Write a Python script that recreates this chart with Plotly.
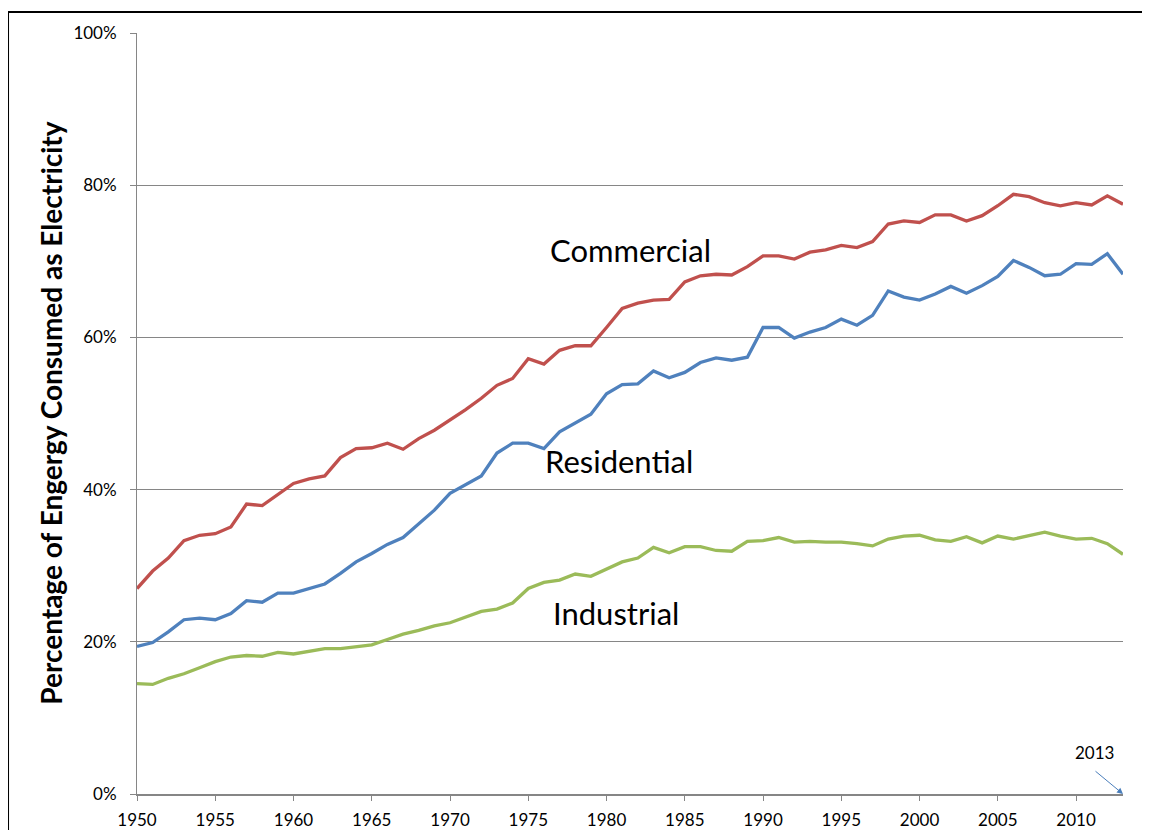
import plotly.graph_objects as go

# Share of sector energy consumed as electricity, 1950-2013 (%)
years = list(range(1950, 2014))

commercial = [27.0, 29.3, 31.0, 33.3, 34.0, 34.2, 35.1, 38.1, 37.9, 39.4,
              40.8, 41.4, 41.8, 44.2, 45.4, 45.5, 46.1, 45.3, 46.7, 47.8,
              49.1, 50.5, 52.0, 53.7, 54.6, 57.2, 56.5, 58.3, 58.9, 58.9,
              61.3, 63.8, 64.5, 64.9, 65.0, 67.3, 68.1, 68.3, 68.2, 69.3,
              70.7, 70.7, 70.3, 71.2, 71.5, 72.1, 71.8, 72.6, 74.9, 75.3,
              75.1, 76.1, 76.1, 75.3, 76.0, 77.3, 78.8, 78.5, 77.7, 77.3,
              77.7, 77.4, 78.6, 77.5]

residential = [19.4, 19.9, 21.3, 22.9, 23.1, 22.9, 23.7, 25.4, 25.2, 26.4,
               26.4, 27.0, 27.6, 29.0, 30.5, 31.6, 32.8, 33.7, 35.5, 37.3,
               39.5, 40.7, 41.8, 44.8, 46.1, 46.1, 45.4, 47.6, 48.8, 49.9,
               52.6, 53.8, 53.9, 55.6, 54.7, 55.4, 56.7, 57.3, 57.0, 57.4,
               61.3, 61.3, 59.9, 60.7, 61.3, 62.4, 61.6, 62.9, 66.1, 65.3,
               64.9, 65.7, 66.7, 65.8, 66.8, 68.0, 70.1, 69.2, 68.1, 68.3,
               69.7, 69.6, 71.0, 68.3]

industrial = [14.5, 14.4, 15.2, 15.8, 16.6, 17.4, 18.0, 18.2, 18.1, 18.6,
              18.4, 18.7, 19.1, 19.1, 19.3, 19.6, 20.3, 21.0, 21.5, 22.1,
              22.5, 23.3, 24.0, 24.3, 25.1, 27.0, 27.8, 28.1, 28.9, 28.6,
              29.5, 30.5, 31.0, 32.4, 31.7, 32.5, 32.5, 32.0, 31.9, 33.2,
              33.3, 33.7, 33.1, 33.2, 33.1, 33.1, 32.9, 32.6, 33.5, 33.9,
              34.0, 33.4, 33.2, 33.8, 33.0, 33.9, 33.5, 34.0, 34.4, 33.9,
              33.5, 33.6, 32.9, 31.5]

y_ticks = [0, 20, 40, 60, 80, 100]
y_ticktext = [f"{v}%" for v in y_ticks]
x_ticks = list(range(1950, 2015, 5))

series = [
    ("Commercial", commercial, "#C0504D"),
    ("Residential", residential, "#4F81BD"),
    ("Industrial", industrial, "#9BBB59"),
]

# label positions for the in-chart series names (year, percent)
labels = [("Commercial", 1981.5, 71.5), ("Residential", 1980.8, 43.8), ("Industrial", 1980.6, 23.8)]

font_family = "Lato, 'Open Sans', sans-serif"

fig = go.Figure()

for name, vals, color in series:
    fig.add_trace(go.Scatter(
        x=years, y=vals, mode="lines", name=name,
        line=dict(color=color, width=3.3),
        hoverinfo="x+y+name",
    ))

for text, xx, yy in labels:
    fig.add_annotation(x=xx, y=yy, text=text, showarrow=False,
                       font=dict(size=31, color="black", family=font_family))

# 2013 pointer
fig.add_annotation(x=2013, y=0, ax=-29, ay=-24, text="", showarrow=True,
                   arrowhead=2, arrowsize=1.2, arrowwidth=1, arrowcolor="#4A7EBB")
fig.add_annotation(x=2011.2, y=5.5, text="2013", showarrow=False,
                   font=dict(size=17, color="black", family=font_family))

# y axis title as a rotated annotation so it sits where the original has it
fig.add_annotation(xref="paper", yref="paper", x=-0.088, y=0.5,
                   text="<b>Percentage of Engergy Consumed as Electricity</b>",
                   textangle=-90, showarrow=False, xanchor="center", yanchor="middle",
                   font=dict(size=28, color="black", family=font_family))

# outer chart frame: only top and left edges are inside the picture
fig.add_shape(type="line", xref="paper", yref="paper",
              x0=-0.1308, x1=1.1, y0=1.0276, y1=1.0276,
              line=dict(color="black", width=2))
fig.add_shape(type="line", xref="paper", yref="paper",
              x0=-0.1308, x1=-0.1308, y0=1.0276, y1=-0.1,
              line=dict(color="black", width=2))

# page body adds an 8px margin, so keep the figure inside the window
fig.update_layout(
    width=1134, height=822,
    margin=dict(l=129, r=19, t=25, b=36, autoexpand=False),
    paper_bgcolor="white", plot_bgcolor="white",
    showlegend=False,
    font=dict(family=font_family, color="black"),
    xaxis=dict(
        range=[1950, 2013],
        tickmode="array",
        tickvals=x_ticks,
        ticks="outside", ticklen=5, tickcolor="#868686",
        ticklabelstandoff=5,
        automargin=False,
        showgrid=False, zeroline=False,
        showline=True, linecolor="#868686", linewidth=2,
        tickfont=dict(size=17, family=font_family),
    ),
    yaxis=dict(
        range=[0, 100],
        tickmode="array",
        tickvals=y_ticks,
        ticktext=y_ticktext,
        ticks="outside", ticklen=6, tickcolor="#868686",
        ticklabelstandoff=10,
        automargin=False,
        showgrid=True, gridcolor="#868686", gridwidth=1,
        zeroline=False,
        showline=True, linecolor="#868686", linewidth=1,
        tickfont=dict(size=17, family=font_family),
    ),
)

fig.write_html("out.html")
